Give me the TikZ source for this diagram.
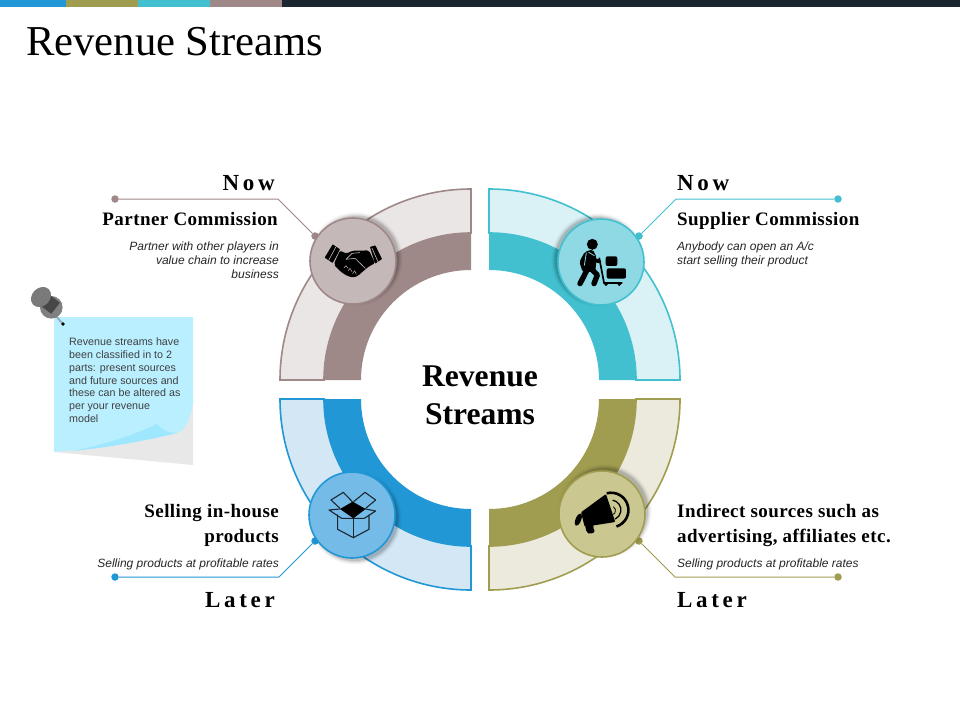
\documentclass[tikz,border=0pt]{standalone}
\usepackage{fontspec}
\setmainfont{Liberation Serif}
\setsansfont{Liberation Sans}
\newfontfamily\headsp[LetterSpace=2.3]{Liberation Serif}
\newfontfamily\nowsp[LetterSpace=16]{Liberation Serif}
\definecolor{mauveD}{HTML}{9F8888}\definecolor{mauveL}{HTML}{EBE6E6}\definecolor{mauveC}{HTML}{C5B8B8}
\definecolor{tealD}{HTML}{42C0D0}\definecolor{tealL}{HTML}{DAF2F6}\definecolor{tealC}{HTML}{8ED9E3}
\definecolor{blueD}{HTML}{2297D5}\definecolor{blueL}{HTML}{D3E7F5}\definecolor{blueC}{HTML}{74BBE8}
\definecolor{oliveD}{HTML}{A09D50}\definecolor{oliveL}{HTML}{EBEADC}\definecolor{oliveC}{HTML}{CAC890}
\definecolor{barK}{HTML}{1C2630}
\definecolor{noteB}{HTML}{B9EFFF}\definecolor{noteF}{HTML}{9EE7FF}\definecolor{needle}{HTML}{96AFB9}
\tikzset{
  x=1pt,y=-1pt,
  hub/.style n args={2}{circle,draw=#1,fill=#2,line width=1.6pt,minimum size=86pt,inner sep=0pt},
  enddot/.style={circle,fill=#1,inner sep=0pt,minimum size=7.5pt},
  conn/.style={draw=#1,line width=1pt},
  nowtxt/.style={font=\nowsp\fontsize{23}{27}\selectfont\bfseries,inner sep=0pt},
  headtxt/.style={font=\headsp\fontsize{19}{25}\selectfont\bfseries,inner sep=0pt},
  subtxt/.style={font=\sffamily\itshape\fontsize{12}{13.8}\selectfont,inner sep=0pt,text=black!85},
  zz/.style={shift={(#1)},x=.3333pt,y=-.3333pt},
  stk/.style={line width=#1,line join=round,line cap=round},
}
\newcommand{\softshadow}[3]{%
  \foreach \sr/\op in {47/.02,46/.03,45/.05,44/.07,43/.09}{
    \fill[black,opacity=\op] (#1,#2) ++(#3) circle[radius=\sr pt];}}
\begin{document}
\begin{tikzpicture}
\useasboundingbox (0,0) rectangle (960,720);
\fill[white] (0,0) rectangle (960,720);
% top bar
\fill[blueD] (0,0) rectangle (66,7);
\fill[oliveD] (66,0) rectangle (138,7);
\fill[tealD] (138,0) rectangle (210,7);
\fill[mauveD] (210,0) rectangle (282,7);
\fill[barK] (282,0) rectangle (960,7);
\node[anchor=base west,inner sep=0pt,font=\fontsize{42.6}{46}\selectfont] (title) at (26,55) {Revenue Streams};
% quadrants: outer band, inner band
\filldraw[draw=mauveD,fill=mauveL,line width=1.6pt] (280,380) arc[start angle=180,end angle=90,radius=191pt] -- (471,233) arc[start angle=90,end angle=180,radius=147pt] -- cycle;
\fill[mauveD] (324,380) arc[start angle=180,end angle=90,radius=147pt] -- (471,270) arc[start angle=90,end angle=180,radius=110pt] -- cycle;
\filldraw[draw=tealD,fill=tealL,line width=1.6pt] (680,380) arc[start angle=0,end angle=90,radius=191pt] -- (489,233) arc[start angle=90,end angle=0,radius=147pt] -- cycle;
\fill[tealD] (636,380) arc[start angle=0,end angle=90,radius=147pt] -- (489,270) arc[start angle=90,end angle=0,radius=110pt] -- cycle;
\filldraw[draw=blueD,fill=blueL,line width=1.6pt] (280,399) arc[start angle=180,end angle=270,radius=191pt] -- (471,546) arc[start angle=270,end angle=180,radius=147pt] -- cycle;
\fill[blueD] (324,399) arc[start angle=180,end angle=270,radius=147pt] -- (471,509) arc[start angle=270,end angle=180,radius=110pt] -- cycle;
\filldraw[draw=oliveD,fill=oliveL,line width=1.6pt] (680,399) arc[start angle=360,end angle=270,radius=191pt] -- (489,546) arc[start angle=270,end angle=360,radius=147pt] -- cycle;
\fill[oliveD] (636,399) arc[start angle=360,end angle=270,radius=147pt] -- (489,509) arc[start angle=270,end angle=360,radius=110pt] -- cycle;
% end dots and connectors
\node[enddot=mauveD] (dTLa) at (115,199) {};
\node[enddot=mauveD] (dTLb) at (315,236) {};
\coordinate (eTL) at (278,199);
\draw[conn=mauveD] (dTLa) -- (eTL) -- (dTLb);
\node[enddot=tealD] (dTRa) at (838,199) {};
\node[enddot=tealD] (dTRb) at (639,236) {};
\coordinate (eTR) at (676,199);
\draw[conn=tealD] (dTRa) -- (eTR) -- (dTRb);
\node[enddot=blueD] (dBLa) at (115,577) {};
\node[enddot=blueD] (dBLb) at (315,541) {};
\coordinate (eBL) at (279,577);
\draw[conn=blueD] (dBLa) -- (eBL) -- (dBLb);
\node[enddot=oliveD] (dBRa) at (838,577) {};
\node[enddot=oliveD] (dBRb) at (639,541) {};
\coordinate (eBR) at (675,577);
\draw[conn=oliveD] (dBRa) -- (eBR) -- (dBRb);
% hubs
\softshadow{353}{261}{3,-2}
\softshadow{601}{262}{-3,-2}
\softshadow{352}{515}{3,3}
\softshadow{602}{514}{3,-3}
\node[hub={mauveD}{mauveC}] (hTL) at (353,261) {};
\node[hub={tealD}{tealC}] (hTR) at (601,262) {};
\node[hub={blueD}{blueC}] (hBL) at (352,515) {};
\node[hub={oliveD}{oliveC}] (hBR) at (602,514) {};
% handshake
\begin{scope}[zz={320,235}]
  \fill[black,rounded corners=.5pt] (38,28)--(60,43)--(38,84)--(14,68)--cycle;
  \fill[black,rounded corners=.5pt] (150,36)--(166,31)--(186,72)--(165,86)--cycle;
  \draw[mauveC,stk=.6pt] (47,37)--(26,76);
  \draw[mauveC,stk=.6pt] (156,40)--(174,80);
  \fill[black,rounded corners=2pt] (60,47)--(80,56)--(97,47)--(120,47)--(147,46)--(165,85)--(150,92)--(130,108)--(115,122)--(100,128)--(85,124)--(70,116)--(57,105)--(41,88)--cycle;
  \draw[mauveC,stk=.6pt] (119,53)--(96,55)--(78,73)--(105,70)--(136,100);
  \draw[mauveC,stk=.5pt] (72,98)--(78,92)--(84,100);
  \draw[mauveC,stk=.5pt] (84,108)--(90,100)--(96,110);
  \draw[mauveC,stk=.5pt] (98,116)--(104,107)--(109,118);
\end{scope}
% person with cart (coordinates in a 3x view)
\begin{scope}[zz={480,170}]
  \fill[black] (337,223) circle[radius=5.5pt];
  \fill[black,rounded corners=2pt] (314,246)--(338,238)--(350,262)--(346,306)--(308,306)--(298,276)--cycle;
  \draw[black,stk=3.8pt] (332,254)--(340,270)--(358,274);
  \draw[tealC,stk=.8pt] (319,249)--(313,286);
  \draw[tealC,stk=.8pt] (326,247)--(343,257);
  \draw[black,stk=5.4pt] (322,298)--(300,341);
  \draw[black,stk=5.4pt] (332,295)--(352,315)--(342,341);
  \draw[black,stk=1.7pt] (358,265)--(372,338);
  \draw[black,stk=2.2pt] (372,339)--(425,339);
  \fill[black] (378,343) circle[radius=1.8pt] (418,343) circle[radius=1.8pt];
  \fill[black,rounded corners=2pt] (377,259) rectangle (412,288);
  \fill[black,rounded corners=2pt] (380,295) rectangle (438,326);
\end{scope}
% open box
\begin{scope}[zz={325,485}]
  \fill[black] (45,72)--(83,50)--(122,72)--(85,100)--cycle;
  \draw[stk=1.1pt,draw=barK] (45,70)--(18,45)--(55,22)--(82,50);
  \draw[stk=1.1pt,draw=barK] (86,50)--(120,22)--(152,45)--(122,70);
  \draw[stk=1.1pt,draw=barK] (45,72)--(12,75)--(50,100)--(85,100)--(118,100)--(152,78)--(122,72);
  \draw[stk=1.1pt,draw=barK] (38,90)--(38,133)--(85,158)--(132,133)--(132,90);
  \draw[stk=1.1pt,draw=barK] (85,100)--(85,158);
\end{scope}
% megaphone (coordinates in a 3x view)
\begin{scope}[zz={480,390}]
  \fill[black,rounded corners=1pt] (303,367)--(378,312)--(406,396)--(330,408)--(314,410)--cycle;
  \fill[black,rotate around={-22:(295,389)}] (295,389) ellipse[x radius=2.8pt,y radius=6.6pt];
  \fill[black,rounded corners=2pt] (315,405)--(342,398)--(338,412)--(346,425)--(330,433)--(320,428)--cycle;
  \draw[black,line width=2.6pt] (380,310) arc[start angle=105,end angle=-72,radius=17.3pt];
  \draw[black,line width=1.3pt] (398,330.5) arc[start angle=80,end angle=-65,radius=10pt];
  \draw[black,line width=.8pt] (400,350) arc[start angle=60,end angle=-60,radius=4.5pt];
\end{scope}
% left column
\node[nowtxt,anchor=base east] (nowTL) at (275,190) {Now};
\node[headtxt,anchor=base east] (hdTL) at (278,225) {Partner Commission};
\node[subtxt,anchor=north east,align=right] (subTL) at (279,242) {Partner with other players in\\value chain to increase\\business};
\node[headtxt,anchor=north east,align=right] (hdBL) at (279,504) {Selling in-house\\products};
\node[subtxt,anchor=base east] (subBL) at (279,567) {Selling products at profitable rates};
\node[nowtxt,anchor=base east] (latBL) at (275,607) {Later};
% right column
\node[nowtxt,anchor=base west] (nowTR) at (677,190) {Now};
\node[headtxt,anchor=base west] (hdTR) at (677,225) {Supplier Commission};
\node[subtxt,anchor=north west,align=left] (subTR) at (677,242) {Anybody can open an A/c\\start selling their product};
\node[headtxt,anchor=north west,align=left] (hdBR) at (677,504) {Indirect sources such as\\advertising, affiliates etc.};
\node[subtxt,anchor=base west] (subBR) at (677,567) {Selling products at profitable rates};
\node[nowtxt,anchor=base west] (latBR) at (677,607) {Later};
% centre
\node[font=\fontsize{31.6}{38}\selectfont\bfseries,align=center,inner sep=0pt] (centre) at (480,395) {Revenue\\Streams};
% sticky note
\fill[black!9] (54,452)--(193,465)--(193,395)--cycle;
\fill[noteB] (54,317)--(193,317)--(193,402) .. controls (191,418) and (186,430) .. (177,433) .. controls (140,442) and (95,449) .. (54,452) -- cycle;
\fill[noteF] (72,451) .. controls (95,447) and (130,437) .. (157,424) .. controls (162,430) and (168,433) .. (177,433) .. controls (140,442) and (105,448) .. (72,451) -- cycle;
\node[anchor=north west,align=left,inner sep=0pt,font=\sffamily\fontsize{10.7}{12.7}\selectfont,text=black!75] (note) at (69,338) {Revenue streams have\\been classified in to 2\\parts: present sources\\and future sources and\\these can be altered as\\per your revenue\\model};
% pin
\draw[line width=2pt,draw=needle] (56,316)--(62,323);
\fill[black] (63,324) circle[radius=1.8pt];
\fill[black!50] (51.3,307.3) circle[radius=11.3pt];
\fill[black!72,rotate around={-38:(50,304)}] (43,297) rectangle (57,311);
\fill[black!52,rotate around={45:(41,297)}] (41,297) ellipse[x radius=11pt,y radius=9pt];
\end{tikzpicture}
\end{document}
